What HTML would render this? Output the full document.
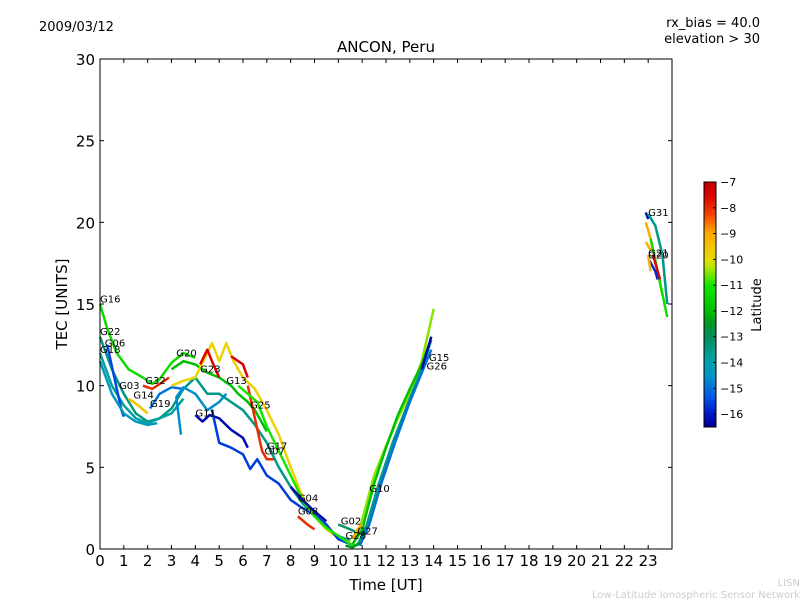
<!DOCTYPE html>
<html><head><meta charset="utf-8"><style>
body{margin:0;background:#fff;}
svg text{font-family:"DejaVu Sans","Liberation Sans",sans-serif;}
</style></head><body>
<svg id="chart" width="800" height="600" xmlns="http://www.w3.org/2000/svg">
<rect width="800" height="600" fill="#fff"/>
<text x="39" y="31" font-size="13">2009/03/12</text>
<text x="760" y="27" font-size="13" text-anchor="end">rx_bias = 40.0</text>
<text x="760" y="43" font-size="13" text-anchor="end">elevation &gt; 30</text>
<text x="386" y="52" font-size="15" text-anchor="middle">ANCON, Peru</text>
<text x="386" y="590" font-size="15" text-anchor="middle">Time [UT]</text>
<text x="67" y="304" font-size="15" text-anchor="middle" transform="rotate(-90 67 304)">TEC [UNITS]</text>
<text x="761" y="305" font-size="13" text-anchor="middle" transform="rotate(-90 761 305)">Latitude</text>
<text x="800" y="586" font-size="10" fill="#ccc" text-anchor="end">LISN</text>
<text x="800" y="598" font-size="10" fill="#ccc" text-anchor="end">Low-Latitude Ionospheric Sensor Network</text>
<g id="series"></g>
<g id="labels"></g>
<g id="axes"></g>
<g id="cbar"></g>
</svg>
<script>
const xTicks=[0,1,2,3,4,5,6,7,8,9,10,11,12,13,14,15,16,17,18,19,20,21,22,23];
const yTicks=[0,5,10,15,20,25,30];
const cbTicks=[-7,-8,-9,-10,-11,-12,-13,-14,-15,-16];
const latMin=-16.5, latMax=-7;
const seriesLat=[-11.3,-13.5,-13.8,-15.5,-14.2,-8,-9.5,-15,-12,-9.8,-7.5,-7.5,-16.2,-14.6,-15.6,-8,-11,-16.2,-8,-13.2,-10.5,-12,-13.5,-15,-16.3,-9,-16.2,-13.5,-9,-11.2,-7.6,-9,-15.8,-9.2,-12.5];
const seriesPts=[
[[0,15],[0.3,13.5],[0.7,12],[1.2,11],[1.8,10.5],[2.2,10.1],[2.5,10.4],[3,11.4],[3.5,12],[4,11.7]],
[[0,13],[0.5,11],[1,9.5],[1.5,8.3],[2,7.8],[2.5,8],[3,8.6],[3.5,9.8],[4,10.5],[4.5,9.5],[5,9.5],[5.5,9],[6,8.5],[6.5,7.6],[7,6.5],[7.5,5],[8,3.8],[8.5,2.8],[9,2],[9.5,1.3],[10,0.8],[10.5,0.5]],
[[0,12],[0.5,10],[1,8.8],[1.5,8],[2,7.7],[2.5,8],[3,8.3],[3.5,9.2]],
[[0.3,12.5],[0.6,10.5],[0.9,8.5],[1,8.1]],
[[0,11.5],[0.5,9.5],[1,8.3],[1.5,7.8],[2,7.6],[2.4,7.7]],
[[1.8,10],[2.2,9.8],[2.6,10.2],[2.9,10.5]],
[[1.2,9.2],[1.6,8.8],[2,8.3]],
[[2.1,8.6],[2.5,9.5],[3,9.9],[3.5,9.8]],
[[3,11],[3.5,11.5],[4,11.3],[4.5,10.8],[5,10.5],[5.5,10],[5.8,9.5],[6.2,9],[6.5,8.5],[7,7.2]],
[[3,10],[3.5,10.3],[4,10.5],[4.5,12],[4.7,12.6],[5,11.5],[5.3,12.6],[5.6,11.5],[6,10.5],[6.5,9.8],[7,8.5],[7.5,7],[8,5],[8.5,3.2],[9,2],[9.5,1.2],[10,0.7],[10.5,0.4]],
[[4.2,11.3],[4.5,12.2],[4.7,11.5],[5,10.5]],
[[5.5,11.8],[6,11.3],[6.2,10.5]],
[[4,8.2],[4.3,7.8],[4.6,8.2],[5,8],[5.5,7.3],[6,6.8],[6.2,6.2]],
[[3.4,7],[3.2,9.3],[3.5,9.9],[4,9.5],[4.5,8.5],[5,9],[5.3,9.5]],
[[4.7,8.5],[5,6.5],[5.5,6.2],[6,5.8],[6.3,4.9],[6.6,5.5],[7,4.5],[7.5,4],[8,3],[8.5,2.5],[9,2.1],[9.5,1.5],[10,0.6],[10.5,0.3]],
[[6.2,10],[6.5,8],[6.8,6],[7,5.5],[7.3,5.5]],
[[5.8,10],[6.2,9.5],[6.6,9],[7,7.5],[7.5,6],[8,4.5],[8.5,3],[9,2],[9.5,1.3],[10,0.8],[10.5,0.3],[10.8,0.2]],
[[8,3.8],[8.5,3],[9,2.3],[9.5,1.7]],
[[8.3,2],[8.7,1.5],[9,1.2]],
[[10,1.5],[10.5,1.2],[10.8,1.0]],
[[10.7,0.5],[11,1.8],[11.5,4.5],[12,6.3],[12.5,8],[13,9.5],[13.5,11.5],[14,14.7]],
[[10.6,0.3],[11,1.2],[11.5,4],[12,6.2],[12.5,8.2],[13,9.8],[13.5,11.3],[13.8,12.5]],
[[10.8,0.2],[11.2,1.5],[11.7,4],[12.3,6.6],[13,9.2],[13.5,11],[13.9,12.8]],
[[10.9,0.2],[11.3,1.5],[11.8,4],[12.4,6.6],[13,9],[13.5,10.8],[13.9,12.2]],
[[13.5,11],[13.7,12],[13.9,13]],
[[10.6,0.6],[10.8,1.2],[11,1.5]],
[[22.9,20.6],[23,20.2]],
[[23,20.5],[23.3,19.8],[23.6,18],[23.8,15]],
[[22.9,20],[23.1,19],[23.4,17],[23.6,15.5]],
[[23.1,19],[23.4,17],[23.8,14.2]],
[[23.2,18],[23.5,16.5]],
[[22.9,18.8],[23.1,18.3]],
[[23,17.8],[23.3,17],[23.4,16.5]],
[[23,18],[23.1,17]],
[[10.3,0.2],[10.6,0.1],[10.9,0.4]]
];
const labelNames=["G16","G22","G06","G18","G03","G32","G14","G19","G20","G23","G13","G11","G25","G17","G07","G04","G08","G02","G28","G27","G10","G15","G26","G31","G21","G20"];
const labelPos=[[0,15.1],[0,13.1],[0.2,12.4],[0,12],[0.8,9.8],[1.9,10.1],[1.4,9.2],[2.1,8.7],[3.2,11.8],[4.2,10.8],[5.3,10.1],[4,8.1],[6.3,8.6],[7,6.1],[6.9,5.8],[8.3,2.9],[8.3,2.1],[10.1,1.5],[10.3,0.6],[10.8,0.9],[11.3,3.5],[13.8,11.5],[13.7,11.0],[23,20.4],[23,17.9],[23,17.8]];
const X0=100,X1=672,Y0=549,Y1=59;
const xs=h=>X0+h*(X1-X0)/24;
const ys=v=>Y0-v*(Y0-Y1)/30;
const NS="http://www.w3.org/2000/svg";
const CSTOPS=[[-16.5,[0,0,140]],[-16,[0,20,200]],[-15.3,[0,90,230]],[-14.5,[0,150,200]],[-13.8,[0,160,160]],[-13,[0,140,90]],[-12.5,[0,150,40]],[-12,[0,190,0]],[-11,[20,230,0]],[-10.3,[180,230,0]],[-10,[230,220,0]],[-9,[255,170,0]],[-8.2,[240,60,0]],[-7.5,[220,0,0]],[-7,[190,0,0]]];
function cmap(l){
 if(l<=CSTOPS[0][0])return `rgb(${CSTOPS[0][1]})`;
 for(let i=1;i<CSTOPS.length;i++){if(l<=CSTOPS[i][0]){const a=CSTOPS[i-1],b=CSTOPS[i];const t=(l-a[0])/(b[0]-a[0]);return 'rgb('+a[1].map((v,k)=>Math.round(v+(b[1][k]-v)*t)).join(',')+')';}}
 return `rgb(${CSTOPS[CSTOPS.length-1][1]})`;
}
const latT=l=>(l-latMin)/(latMax-latMin);
const sg=document.getElementById('series');
seriesPts.forEach((pts,i)=>{
 const p=document.createElementNS(NS,'polyline');
 p.setAttribute('points',pts.map(q=>xs(q[0]).toFixed(1)+','+ys(q[1]).toFixed(1)).join(' '));
 p.setAttribute('fill','none');p.setAttribute('stroke',cmap(seriesLat[i]));p.setAttribute('stroke-width','2.5');p.setAttribute('stroke-linejoin','round');
 
 
 sg.appendChild(p);
});
const lg=document.getElementById('labels');
labelNames.forEach((n,i)=>{
 const t=document.createElementNS(NS,'text');
 t.setAttribute('x',xs(labelPos[i][0]));t.setAttribute('y',ys(labelPos[i][1]));t.setAttribute('font-size','10');t.textContent=n;
 
 
 lg.appendChild(t);
});
const ag=document.getElementById('axes');
let h='';
h+=`<rect x="${X0}" y="${Y1}" width="${X1-X0}" height="${Y0-Y1}" fill="none" stroke="#000" stroke-width="1"/>`;
xTicks.forEach(v=>{const x=xs(v);h+=`<line x1="${x}" x2="${x}" y1="${Y0}" y2="${Y0-4}" stroke="#000"/><line x1="${x}" x2="${x}" y1="${Y1}" y2="${Y1+4}" stroke="#000"/><text x="${x}" y="${Y0+17}" font-size="15" text-anchor="middle">${v}</text>`;});
yTicks.forEach(v=>{const y=ys(v);h+=`<line x1="${X0}" x2="${X0+4}" y1="${y}" y2="${y}" stroke="#000"/><line x1="${X1}" x2="${X1-4}" y1="${y}" y2="${y}" stroke="#000"/><text x="${X0-5}" y="${y+6}" font-size="15" text-anchor="end">${v}</text>`;});
ag.innerHTML=h;
const cg=document.getElementById('cbar');
const CX=704,CW=12,CT=182,CB=427;
const cy=l=>CB-latT(l)*(CB-CT);
let c='<defs><linearGradient id="jg" x1="0" y1="1" x2="0" y2="0">';
CSTOPS.forEach(s=>{c+=`<stop offset="${latT(s[0])}" stop-color="rgb(${s[1]})"/>`;});
c+='</linearGradient></defs>';
c+=`<rect x="${CX}" y="${CT}" width="${CW}" height="${CB-CT}" fill="url(#jg)" stroke="#000"/>`;
cbTicks.forEach(v=>{const y=cy(v);c+=`<line x1="${CX+CW-3}" x2="${CX+CW}" y1="${y}" y2="${y}" stroke="#000"/><text x="${CX+CW+4}" y="${y+4}" font-size="11">\u2212${Math.abs(v)}</text>`;});
cg.innerHTML=c;
</script>
</body></html>
